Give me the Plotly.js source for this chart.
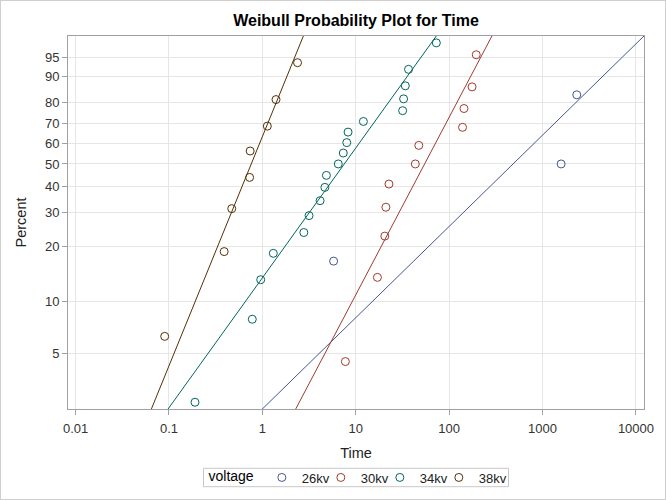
<!DOCTYPE html>
<html>
<head>
<meta charset="utf-8">
<script src="https://cdn.plot.ly/plotly-3.0.1.min.js"></script>
<style>
  html, body { margin: 0; padding: 0; background: #fff; }
  #frame { position: absolute; left: 0; top: 0; width: 666px; height: 500px; box-sizing: border-box; border: 1px solid #cfcfcf; }
  #chart { width: 664px; height: 498px; }
</style>
</head>
<body>
<div id="frame"><div id="chart"></div></div>
<script>
// ---- Data ----
var groups = ['26kv', '30kv', '34kv', '38kv'];
var colors = ['#445694', '#A23A2E', '#01665E', '#543005'];

var time26 = [5.79, 1579.52, 2323.70];
var pct26  = [16.7, 50.0, 83.3];

var time30 = [7.74, 17.05, 20.46, 21.02, 22.66, 43.40, 47.30, 139.07, 144.12, 175.88, 194.90];
var pct30  = [4.5, 13.6, 22.7, 31.8, 40.9, 50.0, 59.1, 68.2, 77.3, 86.4, 95.5];

var time34 = [0.19, 0.78, 0.96, 1.31, 2.78, 3.16, 4.15, 4.67, 4.85, 6.50, 7.35, 8.01, 8.27, 12.06, 31.75, 32.52, 33.91, 36.71, 72.89];
var pct34  = [2.6, 7.9, 13.2, 18.4, 23.7, 28.9, 34.2, 39.5, 44.7, 50.0, 55.3, 60.5, 65.8, 71.1, 76.3, 81.6, 86.8, 92.1, 97.4];

var time38 = [0.09, 0.39, 0.47, 0.73, 0.74, 1.13, 1.40, 2.38];
var pct38  = [6.3, 18.8, 31.3, 43.8, 56.3, 68.8, 81.3, 93.8];

// Weibull fit lines (shape, scale)
var fitShape = [0.544, 1.058, 0.774, 1.366];
var fitScale = [948, 77.2, 12.1, 0.994];

var xTickVals = [0.01, 0.1, 1, 10, 100, 1000, 10000];
var xTickText = ['0.01', '0.1', '1', '10', '100', '1000', '10000'];
var yTickPct  = [5, 10, 20, 30, 40, 50, 60, 70, 80, 90, 95];

// ---- Build ----
function weib(p) { return Math.log(-Math.log(1 - p / 100)); }

var times = [time26, time30, time34, time38];
var pcts  = [pct26, pct30, pct34, pct38];

var xLogRange = [-2.081, 4.086];
var yRange = [-3.729, 1.389];

var traces = [];
for (var g = 0; g < groups.length; g++) {
  var lx = [Math.pow(10, xLogRange[0] - 0.1), Math.pow(10, xLogRange[1] + 0.1)];
  var ly = lx.map(function (t) { return fitShape[g] * (Math.log(t) - Math.log(fitScale[g])); });
  traces.push({
    x: lx, y: ly, mode: 'lines', type: 'scatter', showlegend: false, hoverinfo: 'skip',
    line: { color: colors[g], width: 1 }
  });
}
for (var g2 = 0; g2 < groups.length; g2++) {
  traces.push({
    x: times[g2], y: pcts[g2].map(weib), mode: 'markers', type: 'scatter', name: groups[g2],
    marker: { symbol: 'circle-open', size: 8, color: colors[g2], line: { width: 1, color: colors[g2] } }
  });
}
// empty spacer entry so the last legend label is not clipped
traces.push({
  x: [null], y: [null], mode: 'markers', type: 'scatter', name: ' ', hoverinfo: 'skip',
  marker: { symbol: 'circle-open', size: 8, color: 'rgba(0,0,0,0)', line: { width: 0, color: 'rgba(0,0,0,0)' } }
});

var fam = 'Liberation Sans, Arial, sans-serif';
var axisLine = '#a0a0a0';
var grid = '#e6e6e6';

var layout = {
  width: 664, height: 498,
  margin: { l: 67, r: 21, t: 35, b: 90, pad: 0 },
  paper_bgcolor: '#fff', plot_bgcolor: '#fff',
  font: { family: fam, color: '#333' },
  title: {
    text: 'Weibull Probability Plot for Time',
    font: { family: fam, size: 16, weight: 'bold', color: '#000' },
    x: 0.5, xref: 'paper', xanchor: 'center',
    y: 1 - 19.7 / 498, yref: 'container', yanchor: 'middle'
  },
  xaxis: {
    type: 'log', range: xLogRange, autorange: false, automargin: false,
    tickmode: 'array', tickvals: xTickVals, ticktext: xTickText,
    ticks: 'outside', ticklen: 5, tickcolor: axisLine, tickwidth: 1, ticklabelstandoff: 2,
    showline: true, mirror: true, linecolor: axisLine, linewidth: 1,
    showgrid: true, gridcolor: grid, gridwidth: 1, zeroline: false,
    tickfont: { family: fam, size: 13, color: '#333' },
    title: { text: 'Time', font: { family: fam, size: 14.5, color: '#222' }, standoff: 13 }
  },
  yaxis: {
    range: yRange, autorange: false, automargin: false,
    tickmode: 'array', tickvals: yTickPct.map(weib), ticktext: yTickPct.map(String),
    ticks: 'outside', ticklen: 5, tickcolor: axisLine, tickwidth: 1,
    showline: true, mirror: true, linecolor: axisLine, linewidth: 1,
    showgrid: true, gridcolor: grid, gridwidth: 1, zeroline: false,
    tickfont: { family: fam, size: 13, color: '#333' },
    title: { text: 'Percent', font: { family: fam, size: 14.5, color: '#222' }, standoff: 14 }
  },
  showlegend: true,
  legend: {
    orientation: 'h', x: 205.5 / 664, xanchor: 'left', xref: 'container',
    y: 1 - 476.5 / 498, yanchor: 'middle', yref: 'container',
    borderwidth: 0, bgcolor: 'rgba(0,0,0,0)',
    font: { family: fam, size: 13, color: '#222' },
    title: { text: 'voltage', side: 'left', font: { family: fam, size: 14, color: '#000' } },
    itemwidth: 30, entrywidth: 14, entrywidthmode: 'pixels', tracegroupgap: 0
  },
  shapes: [{
    type: 'rect', xref: 'paper', yref: 'paper',
    x0: (202.5 - 67) / 576, x1: (507.5 - 67) / 576,
    y0: (408 - 467.3) / 373, y1: (408 - 485.7) / 373,
    line: { color: '#c8c8c8', width: 1 }, fillcolor: 'rgba(0,0,0,0)', layer: 'below'
  }]
};

Plotly.newPlot('chart', traces, layout, { displayModeBar: false, staticPlot: true });
</script>
</body>
</html>
